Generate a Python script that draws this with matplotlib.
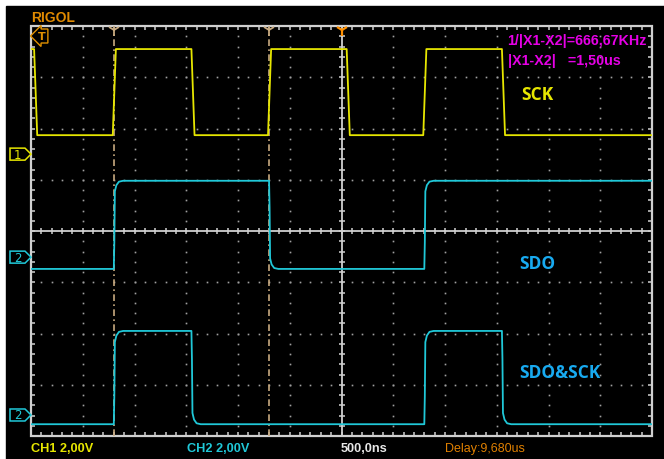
import matplotlib
matplotlib.use("Agg")
import matplotlib.pyplot as plt
import matplotlib.transforms as mtransforms
from matplotlib.patches import Rectangle, Polygon
import numpy as np

W, H = 664, 460

# time base: 500 ns/div, 12 divisions -> 0..6 us ; 8 vertical divisions
t_span = 6.0
n_div_y = 8

# edge times (us) and levels (divisions) of each trace
sck_edges = [0.03, 0.79, 1.55, 2.29, 3.05, 3.79, 4.55]
sck_start_high = True
sck_high, sck_low = 7.55, 5.87

sdo_edges = [0.80, 2.30, 3.80]
sdo_start_high = False
sdo_high, sdo_low = 4.98, 3.26

and_edges = [0.80, 1.55, 3.80, 4.55]
and_start_high = False
and_high, and_low = 2.05, 0.23

# channel ground markers (divisions)
ch_markers = [("1", 5.50, "#e6e600"), ("2", 3.49, "#20c8d8"), ("2", 0.41, "#20c8d8")]

cursor_times = [0.80, 2.30]
trigger_time = 3.0

# edge shapes: (dt in us, fraction of the step)
sck_shape = [(0.0, 0.0), (0.03, 1.0)]
ch2_shape = [(0.0, 0.0), (0.005, 0.3), (0.01, 0.88), (0.025, 0.95), (0.05, 0.99), (0.09, 1.0)]


def build(edges, start_high, hi, lo, shape):
    t = [0.0]
    v = [hi if start_high else lo]
    state = start_high
    for e in edges:
        a = hi if state else lo
        b = lo if state else hi
        for dt, f in shape:
            t.append(e + dt)
            v.append(a + (b - a) * f)
        state = not state
    t.append(t_span)
    v.append(v[-1])
    return np.array(t), np.array(v)


fig = plt.figure(figsize=(W / 100, H / 100), dpi=100, facecolor="white")
fig.patches.append(Rectangle((6 / W, 0), 1, 1 - 7 / H, transform=fig.transFigure,
                             color="black", zorder=-5))

x0, y0, x1, y1 = 31, 27, 652, 437
ax = fig.add_axes([x0 / W, 1 - y1 / H, (x1 - x0) / W, (y1 - y0) / H])
ax.set_facecolor("black")
ax.set_xlim(0, t_span)
ax.set_ylim(0, n_div_y)
ax.axis("off")

dx = t_span / 12
grid_c = "#a0a0a0"
frame_c = "#d0d0d0"

# dotted graticule
for k in range(1, 12):
    if k == 6:
        continue
    ys = np.arange(1, 40) * 0.2
    ax.plot(np.full_like(ys, k * dx), ys, ls="none", marker="s", ms=1.2, color=grid_c, mew=0)
for k in range(1, 8):
    if k == 4:
        continue
    xs = np.arange(1, 60) * 0.2 * dx
    ax.plot(xs, np.full_like(xs, k), ls="none", marker="s", ms=1.2, color=grid_c, mew=0)

# center crosshair with ticks
ax.axhline(4, color=frame_c, lw=1.3)
ax.axvline(6 * dx, color=frame_c, lw=1.3)
xs = np.arange(1, 60) * 0.2 * dx
ax.plot(xs, np.full_like(xs, 4), ls="none", marker="|", ms=5, color=frame_c, mew=1.1)
ys = np.arange(1, 40) * 0.2
ax.plot(np.full_like(ys, 6 * dx), ys, ls="none", marker="_", ms=5, color=frame_c, mew=1.1)

# frame with inward ticks
ax.add_patch(Rectangle((0, 0), t_span, n_div_y, fill=False, ec=frame_c, lw=1.6, clip_on=False))
ax.plot(xs, np.full_like(xs, n_div_y), ls="none", marker=3, ms=3, color=frame_c, mew=1.1, clip_on=False)
ax.plot(xs, np.zeros_like(xs), ls="none", marker=2, ms=3, color=frame_c, mew=1.1, clip_on=False)
ax.plot(np.zeros_like(ys), ys, ls="none", marker=1, ms=3, color=frame_c, mew=1.1, clip_on=False)
ax.plot(np.full_like(ys, t_span), ys, ls="none", marker=0, ms=3, color=frame_c, mew=1.1, clip_on=False)

# cursors
cur_c = "#c8aa80"
for ct in cursor_times:
    ax.axvline(ct, color=cur_c, lw=1.2, ls=(0, (4, 2, 1, 2)))
    ax.plot(ct, n_div_y - 0.08, marker="1", ms=9, color=cur_c, mew=1.3, clip_on=False)
ax.plot(trigger_time, n_div_y - 0.08, marker="1", ms=9, color="#ff9000", mew=1.6, clip_on=False)

# traces
t, v = build(sck_edges, sck_start_high, sck_high, sck_low, sck_shape)
ax.plot(t, v, color="#e6e600", lw=1.3)
t, v = build(sdo_edges, sdo_start_high, sdo_high, sdo_low, ch2_shape)
ax.plot(t, v, color="#20c8d8", lw=1.3)
t, v = build(and_edges, and_start_high, and_high, and_low, ch2_shape)
ax.plot(t, v, color="#20c8d8", lw=1.3)

# channel markers on the left edge (drawn in display pixels)
fig.canvas.draw()
pix = mtransforms.IdentityTransform()
for lab, lvl, col in ch_markers:
    yc = ax.transData.transform((0, lvl))[1]
    pts = [(10, yc - 6), (25, yc - 6), (31, yc), (25, yc + 6), (10, yc + 6)]
    fig.patches.append(Polygon(pts, closed=True, fc="black", ec=col, lw=1.1,
                               transform=pix, zorder=3))
    fig.text(17.5, yc, lab, transform=pix, color=col, fontsize=8.5, ha="center", va="center",
             fontfamily="DejaVu Sans", zorder=4)

# trigger level marker
fig.text(42 / W, 1 - 37 / H, "T", color="#e09000", fontsize=8, ha="center", va="center",
         fontweight="bold",
         bbox=dict(boxstyle="larrow,pad=0.18", fc="black", ec="#e09000", lw=1.0))

# signal names
lab_font = dict(fontfamily="Open Sans", fontweight="bold", fontsize=12.5, va="center", ha="left")
fig.text(521 / W, 1 - 95 / H, "SCK", color="#e6e600", **lab_font)
fig.text(519 / W, 1 - 264 / H, "SDO", color="#18aaf0", **lab_font)
fig.text(519 / W, 1 - 373 / H, "SDO&SCK", color="#18aaf0", **lab_font)

# header and status texts
hdr = dict(fontfamily="Liberation Sans", fontweight="bold", va="center", ha="left")
fig.text(31 / W, 1 - 18 / H, "RIGOL", color="#e08a00", fontsize=10, **hdr)
fig.text(507 / W, 1 - 41 / H, "1/|X1-X2|=666,67KHz", color="#e600e6", fontsize=10.3, **hdr)
fig.text(508 / W, 1 - 61 / H, "|X1-X2|   =1,50us", color="#e600e6", fontsize=10.3, **hdr)
fig.text(31 / W, 1 - 449 / H, "CH1 2,00V", color="#e6e600", fontsize=9.2, **hdr)
fig.text(187 / W, 1 - 449 / H, "CH2 2,00V", color="#20c8d8", fontsize=9.2, **hdr)
fig.text(341 / W, 1 - 449 / H, "500,0ns", color="#e8e8e8", fontsize=9.2, **hdr)
fig.text(445 / W, 1 - 449 / H, "Delay:9,680us", color="#e08000", fontsize=9,
         fontfamily="Liberation Sans", va="center", ha="left")

fig.savefig("out.png", dpi=100, facecolor="white")
